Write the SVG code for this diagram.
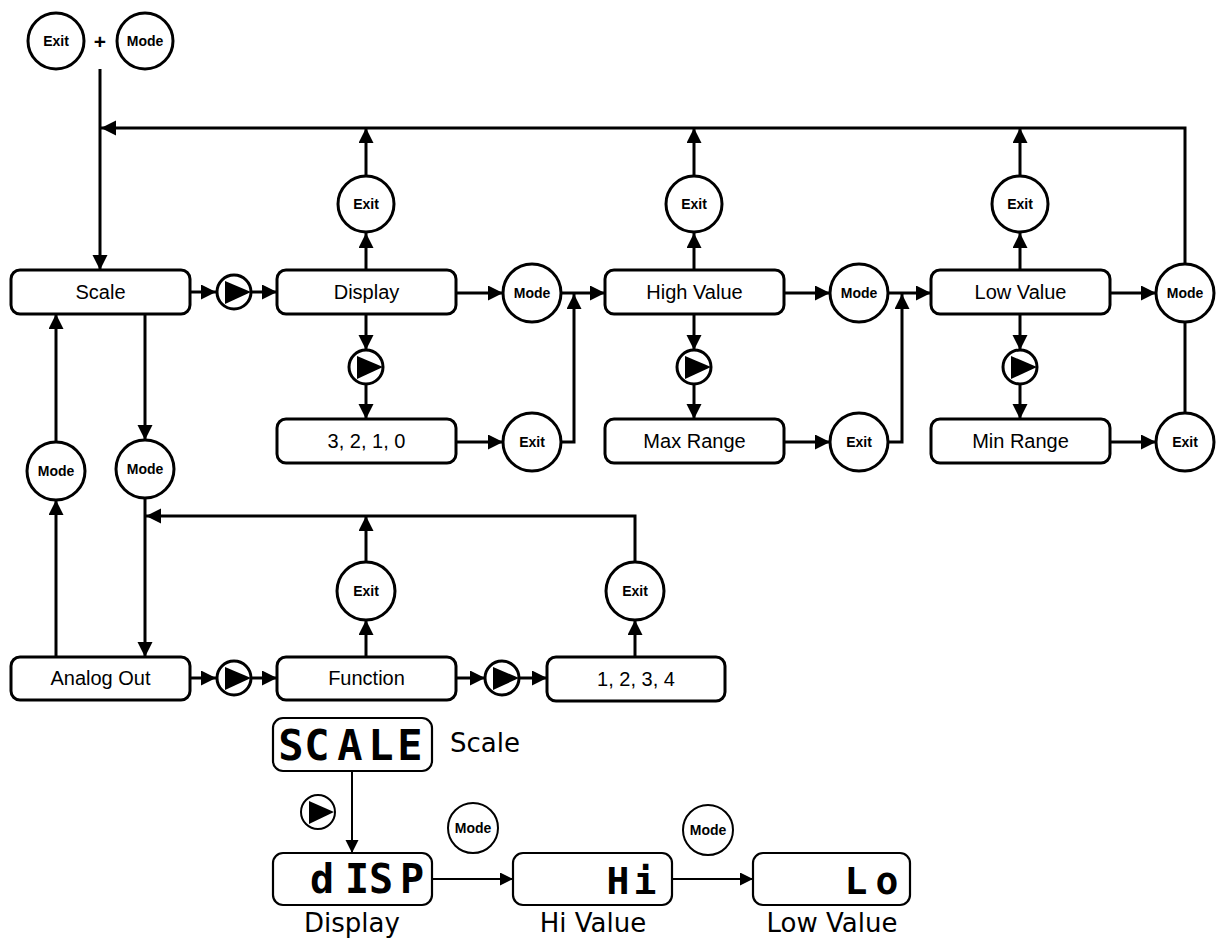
<svg xmlns="http://www.w3.org/2000/svg" width="1219" height="943" viewBox="0 0 1219 943">
<defs>
<style>
.box{fill:#fff;stroke:#000;stroke-width:3}
.lcd{fill:#fff;stroke:#000;stroke-width:2.2}
.btn{fill:#fff;stroke:#000;stroke-width:3}
.btn2{fill:#fff;stroke:#000;stroke-width:2}
.ln{fill:none;stroke:#000;stroke-width:3}
.ln2{fill:none;stroke:#000;stroke-width:2}
.arr{marker-end:url(#ah)}
.arr2{marker-end:url(#ah2)}
.lbl{font-family:"Liberation Sans",Arial,sans-serif;font-size:20px;text-anchor:middle;fill:#000}
.bl{font-family:"Liberation Sans",Arial,sans-serif;font-size:14px;font-weight:bold;text-anchor:middle;fill:#000}
.cap{font-family:"DejaVu Sans",Verdana,sans-serif;font-size:26px;fill:#000}
.seg{font-family:"DejaVu Sans Mono",monospace;font-weight:bold;text-anchor:middle;fill:#000}
.tri{fill:#000;stroke:none}
</style>
<marker id="ah" markerUnits="userSpaceOnUse" markerWidth="16" markerHeight="16" refX="15" refY="7.5" orient="auto"><path d="M0,0 L15,7.5 L0,15 z" fill="#000"/></marker>
<marker id="ah2" markerUnits="userSpaceOnUse" markerWidth="14" markerHeight="14" refX="13" refY="6.5" orient="auto"><path d="M0,0 L13,6.5 L0,13 z" fill="#000"/></marker>
</defs>

<g id="connectors">
<path class="ln arr" d="M100,69 V270"/>
<path class="ln arr" d="M1185,264 V128 H101"/>
<path class="ln arr" d="M190,292 H216"/>
<path class="ln arr" d="M252,292 H277"/>
<path class="ln arr" d="M366,270 V233"/>
<path class="ln arr" d="M366,176 V128"/>
<path class="ln arr" d="M456,293 H503"/>
<path class="ln arr" d="M561,293 H605"/>
<path class="ln arr" d="M366,314 V350"/>
<path class="ln arr" d="M366,385 V419"/>
<path class="ln arr" d="M456,442 H503"/>
<path class="ln arr" d="M561,442 H574 V294"/>
<path class="ln arr" d="M694,270 V233"/>
<path class="ln arr" d="M694,176 V128"/>
<path class="ln arr" d="M784,293 H830"/>
<path class="ln arr" d="M888,293 H931"/>
<path class="ln arr" d="M694,314 V350"/>
<path class="ln arr" d="M694,385 V419"/>
<path class="ln arr" d="M784,442 H830"/>
<path class="ln arr" d="M888,442 H902 V294"/>
<path class="ln arr" d="M1020,270 V233"/>
<path class="ln arr" d="M1020,176 V128"/>
<path class="ln arr" d="M1110,293 H1156"/>
<path class="ln arr" d="M1020,314 V350"/>
<path class="ln arr" d="M1020,385 V419"/>
<path class="ln arr" d="M1110,442 H1156"/>
<path class="ln" d="M1185,413 V322"/>
<path class="ln arr" d="M56,442 V314"/>
<path class="ln arr" d="M56,657 V500"/>
<path class="ln arr" d="M145,314 V440"/>
<path class="ln arr" d="M145,498 V657"/>
<path class="ln arr" d="M635,562 V516 H146"/>
<path class="ln arr" d="M190,678 H216"/>
<path class="ln arr" d="M252,678 H277"/>
<path class="ln arr" d="M366,657 V620"/>
<path class="ln arr" d="M366,562 V516"/>
<path class="ln arr" d="M456,678 H485"/>
<path class="ln arr" d="M520,678 H547"/>
<path class="ln arr" d="M635,657 V620"/>
<path class="ln2 arr2" d="M352,771 V853"/>
<path class="ln2 arr2" d="M432,879 H513"/>
<path class="ln2 arr2" d="M672,879 H753"/>
</g>

<g id="btn-exit-top"><circle class="btn" cx="56" cy="41" r="28"/><text class="bl" x="56" y="46">Exit</text></g>
<text id="plus" class="bl" x="100" y="49" style="font-size:21px">+</text>
<g id="btn-mode-top"><circle class="btn" cx="145" cy="41" r="28"/><text class="bl" x="145" y="46">Mode</text></g>

<g id="scale"><rect class="box" x="11" y="270" width="179" height="44" rx="9"/><text class="lbl" x="100.5" y="299">Scale</text></g>
<g id="play1"><circle class="btn" cx="234" cy="292" r="17"/><path class="tri" d="M225,281 L251,292 L225,304 z"/></g>
<g id="display"><rect class="box" x="277" y="270" width="179" height="44" rx="9"/><text class="lbl" x="366.5" y="299">Display</text></g>
<g id="exit-display"><circle class="btn" cx="366" cy="204" r="28"/><text class="bl" x="366" y="209">Exit</text></g>
<g id="mode-display"><circle class="btn" cx="532" cy="293" r="29"/><text class="bl" x="532" y="298">Mode</text></g>
<g id="play-display"><circle class="btn" cx="366" cy="367" r="17"/><path class="tri" d="M357,356 L383,367 L357,379 z"/></g>
<g id="decimals"><rect class="box" x="277" y="419" width="179" height="44" rx="9"/><text class="lbl" x="366.5" y="448">3, 2, 1, 0</text></g>
<g id="exit-decimals"><circle class="btn" cx="532" cy="442" r="29"/><text class="bl" x="532" y="447">Exit</text></g>

<g id="high"><rect class="box" x="605" y="270" width="179" height="44" rx="9"/><text class="lbl" x="694.5" y="299">High Value</text></g>
<g id="exit-high"><circle class="btn" cx="694" cy="204" r="28"/><text class="bl" x="694" y="209">Exit</text></g>
<g id="mode-high"><circle class="btn" cx="859" cy="293" r="29"/><text class="bl" x="859" y="298">Mode</text></g>
<g id="play-high"><circle class="btn" cx="694" cy="367" r="17"/><path class="tri" d="M685,356 L711,367 L685,379 z"/></g>
<g id="maxrange"><rect class="box" x="605" y="419" width="179" height="44" rx="9"/><text class="lbl" x="694.5" y="448">Max Range</text></g>
<g id="exit-max"><circle class="btn" cx="859" cy="442" r="29"/><text class="bl" x="859" y="447">Exit</text></g>

<g id="low"><rect class="box" x="931" y="270" width="179" height="44" rx="9"/><text class="lbl" x="1020.5" y="299">Low Value</text></g>
<g id="exit-low"><circle class="btn" cx="1020" cy="204" r="28"/><text class="bl" x="1020" y="209">Exit</text></g>
<g id="mode-low"><circle class="btn" cx="1185" cy="293" r="29"/><text class="bl" x="1185" y="298">Mode</text></g>
<g id="play-low"><circle class="btn" cx="1020" cy="367" r="17"/><path class="tri" d="M1011,356 L1037,367 L1011,379 z"/></g>
<g id="minrange"><rect class="box" x="931" y="419" width="179" height="44" rx="9"/><text class="lbl" x="1020.5" y="448">Min Range</text></g>
<g id="exit-min"><circle class="btn" cx="1185" cy="442" r="29"/><text class="bl" x="1185" y="447">Exit</text></g>

<g id="mode-left1"><circle class="btn" cx="56" cy="471" r="29"/><text class="bl" x="56" y="476">Mode</text></g>
<g id="mode-left2"><circle class="btn" cx="145" cy="469" r="29"/><text class="bl" x="145" y="474">Mode</text></g>

<g id="analog"><rect class="box" x="11" y="657" width="179" height="43" rx="9"/><text class="lbl" x="100.5" y="685">Analog Out</text></g>
<g id="play2"><circle class="btn" cx="234" cy="678" r="17"/><path class="tri" d="M225,667 L251,678 L225,690 z"/></g>
<g id="function"><rect class="box" x="277" y="657" width="179" height="43" rx="9"/><text class="lbl" x="366.5" y="685">Function</text></g>
<g id="exit-function"><circle class="btn" cx="366" cy="591" r="29"/><text class="bl" x="366" y="596">Exit</text></g>
<g id="play3"><circle class="btn" cx="502" cy="678" r="17"/><path class="tri" d="M493,667 L519,678 L493,690 z"/></g>
<g id="outputs"><rect class="box" x="547" y="657" width="178" height="44" rx="9"/><text class="lbl" x="636" y="686">1, 2, 3, 4</text></g>
<g id="exit-outputs"><circle class="btn" cx="635" cy="591" r="29"/><text class="bl" x="635" y="596">Exit</text></g>

<g id="lcd-scale"><rect class="lcd" x="273" y="718" width="159" height="53" rx="10"/><text class="seg" style="font-size:42px" x="291 317 350 381 410" y="760">SCALE</text><text class="cap" x="450" y="752">Scale</text></g>
<g id="play-lcd"><circle class="btn2" cx="318" cy="812" r="17"/><path class="tri" d="M309,801 L334,812 L309,824 z"/></g>
<g id="lcd-disp"><rect class="lcd" x="273" y="853" width="159" height="52" rx="10"/><text class="seg" style="font-size:40px" x="322 357 381 412" y="893">dISP</text><text class="cap" x="352" y="932" text-anchor="middle">Display</text></g>
<g id="mode-lcd1"><circle class="btn2" cx="473" cy="828" r="25"/><text class="bl" x="473" y="833">Mode</text></g>
<g id="lcd-hi"><rect class="lcd" x="513" y="853" width="159" height="52" rx="10"/><text class="seg" style="font-size:38px" x="618 645" y="894">Hi</text><text class="cap" x="593" y="932" text-anchor="middle">Hi Value</text></g>
<g id="mode-lcd2"><circle class="btn2" cx="708" cy="830" r="25"/><text class="bl" x="708" y="835">Mode</text></g>
<g id="lcd-lo"><rect class="lcd" x="753" y="853" width="157" height="52" rx="10"/><text class="seg" style="font-size:38px" x="856 887" y="894">Lo</text><text class="cap" x="832" y="932" text-anchor="middle">Low Value</text></g>
</svg>
